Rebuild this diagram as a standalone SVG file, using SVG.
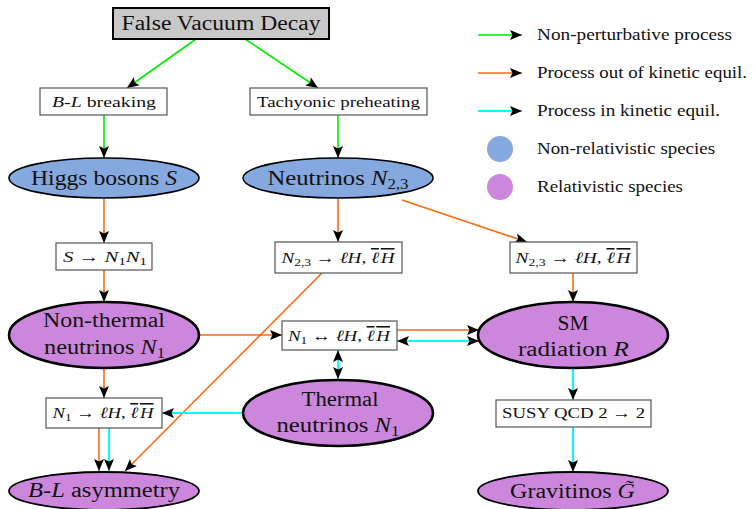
<svg xmlns="http://www.w3.org/2000/svg" width="753" height="509" viewBox="0 0 753 509" font-family="'Liberation Serif', serif">
<defs>
<style>
text{font-family:"Liberation Serif",serif;fill:#111;text-anchor:middle}
.big{font-size:20.5px}
.sm{font-size:15.5px}
.leg{font-size:16px;text-anchor:start}
.i{font-style:italic}
.ov{text-decoration:overline}
.box{fill:#fff;stroke:#555;stroke-width:1.2}
.nr{fill:#85a8de;stroke:#000;stroke-width:1.6}
.rel{fill:#cc87dd;stroke:#000;stroke-width:2.6}
.rel2{fill:#cc87dd;stroke:#000;stroke-width:1.8}
.c{fill:none;stroke-width:1.6}
.g{stroke:#00ee00}
.o{stroke:#ff6a10}
.cy{stroke:#00ffff;stroke-width:2}
</style>
<marker id="ah" markerWidth="13" markerHeight="11" refX="12" refY="5.5" orient="auto" markerUnits="userSpaceOnUse">
<path d="M0,0.5 L12,5.5 L0,10.5 L2.5,5.5 Z" fill="#000"/>
</marker>
<marker id="as" markerWidth="13" markerHeight="11" refX="1" refY="5.5" orient="auto" markerUnits="userSpaceOnUse">
<path d="M13,0.5 L1,5.5 L13,10.5 L10.5,5.5 Z" fill="#000"/>
</marker>
</defs>
<rect width="753" height="509" fill="#fff"/>

<g id="connectors">
<path class="c g" d="M196,39 L127,88" marker-end="url(#ah)"/>
<path class="c g" d="M245,39 L318,88" marker-end="url(#ah)"/>
<path class="c g" d="M104,115 L104,158" marker-end="url(#ah)"/>
<path class="c g" d="M338,115 L338,158" marker-end="url(#ah)"/>
<path class="c o" d="M104,199 L104,243" marker-end="url(#ah)"/>
<path class="c o" d="M338,199 L338,242" marker-end="url(#ah)"/>
<path class="c o" d="M402,200 L527,242" marker-end="url(#ah)"/>
<path class="c o" d="M104,270 L104,302" marker-end="url(#ah)"/>
<path class="c o" d="M573,273 L573,302" marker-end="url(#ah)"/>
<path class="c o" d="M322,273 L125,471" marker-end="url(#ah)"/>
<path class="c o" d="M199,335 L282,335" marker-end="url(#ah)"/>
<path class="c o" d="M397,330 L479,330" marker-end="url(#ah)"/>
<path class="c cy" d="M397,341 L479,341" marker-start="url(#as)" marker-end="url(#ah)"/>
<path class="c cy" d="M338,350 L338,379" marker-start="url(#as)" marker-end="url(#ah)"/>
<path class="c cy" d="M243,413 L162,413" marker-end="url(#ah)"/>
<path class="c o" d="M104,369 L104,398" marker-end="url(#ah)"/>
<path class="c o" d="M99,428 L99,471" marker-end="url(#ah)"/>
<path class="c cy" d="M109,428 L109,471" marker-end="url(#ah)"/>
<path class="c cy" d="M573,369 L573,400" marker-end="url(#ah)"/>
<path class="c cy" d="M573,427 L573,472" marker-end="url(#ah)"/>
</g>

<g id="fvd">
<rect x="113" y="8" width="216" height="31" fill="#c8c8c8" stroke="#000" stroke-width="2"/>
<text class="big" x="221" y="30" textLength="199" lengthAdjust="spacingAndGlyphs">False Vacuum Decay</text>
</g>
<g id="bl-breaking">
<rect class="box" x="40" y="88" width="127" height="27"/>
<text class="sm" x="104" y="107" textLength="104" lengthAdjust="spacingAndGlyphs"><tspan class="i">B</tspan>-<tspan class="i">L</tspan> breaking</text>
</g>
<g id="tachyonic">
<rect class="box" x="250" y="88" width="177" height="27"/>
<text class="sm" x="338.5" y="107" textLength="163" lengthAdjust="spacingAndGlyphs">Tachyonic preheating</text>
</g>
<g id="higgs">
<ellipse class="nr" cx="104" cy="178" rx="95" ry="20"/>
<text class="big" x="104" y="185" textLength="146" lengthAdjust="spacingAndGlyphs">Higgs bosons <tspan class="i">S</tspan></text>
</g>
<g id="neutrinos23">
<ellipse class="nr" cx="338" cy="178" rx="95" ry="20"/>
<text class="big" x="338" y="185" textLength="141" lengthAdjust="spacingAndGlyphs">Neutrinos <tspan class="i">N</tspan><tspan font-size="14" dy="4">2,3</tspan></text>
</g>
<g id="s-decay">
<rect class="box" x="56" y="243" width="96" height="27"/>
<text class="sm" x="105" y="262" textLength="84" lengthAdjust="spacingAndGlyphs"><tspan class="i">S</tspan> → <tspan class="i">N</tspan><tspan font-size="11" dy="3">1</tspan><tspan class="i" dy="-3">N</tspan><tspan font-size="11" dy="3">1</tspan></text>
</g>
<g id="n23-decay-a">
<rect class="box" x="275" y="242" width="127" height="31"/>
<text class="sm" x="338" y="263" textLength="113" lengthAdjust="spacingAndGlyphs"><tspan class="i">N</tspan><tspan font-size="11" dy="3">2,3</tspan><tspan dy="-3"> → </tspan><tspan class="i">ℓH</tspan>, <tspan class="i ov">ℓ</tspan><tspan class="i ov" dx="1.5">H</tspan></text>
</g>
<g id="n23-decay-b">
<rect class="box" x="510" y="242" width="127" height="31"/>
<text class="sm" x="573" y="263" textLength="115" lengthAdjust="spacingAndGlyphs"><tspan class="i">N</tspan><tspan font-size="11" dy="3">2,3</tspan><tspan dy="-3"> → </tspan><tspan class="i">ℓH</tspan>, <tspan class="i ov">ℓ</tspan><tspan class="i ov" dx="1.5">H</tspan></text>
</g>
<g id="nonthermal">
<ellipse class="rel" cx="104" cy="335" rx="95" ry="33"/>
<text class="big" x="104" y="327" textLength="122" lengthAdjust="spacingAndGlyphs">Non-thermal</text>
<text class="big" x="104.5" y="354" textLength="121" lengthAdjust="spacingAndGlyphs">neutrinos <tspan class="i">N</tspan><tspan font-size="14" dy="4">1</tspan></text>
</g>
<g id="n1-inverse">
<rect class="box" x="282" y="321" width="115" height="29"/>
<text class="sm" x="339" y="341" textLength="102" lengthAdjust="spacingAndGlyphs"><tspan class="i">N</tspan><tspan font-size="11" dy="3">1</tspan><tspan dy="-3"> ↔ </tspan><tspan class="i">ℓH</tspan>, <tspan class="i ov">ℓ</tspan><tspan class="i ov" dx="1.5">H</tspan></text>
</g>
<g id="sm-radiation">
<ellipse class="rel" cx="573" cy="335" rx="95" ry="33"/>
<text class="big" x="573" y="330" textLength="31" lengthAdjust="spacingAndGlyphs">SM</text>
<text class="big" x="573.5" y="356" textLength="111" lengthAdjust="spacingAndGlyphs">radiation <tspan class="i">R</tspan></text>
</g>
<g id="thermal">
<ellipse class="rel" cx="338" cy="413" rx="95" ry="33"/>
<text class="big" x="340" y="406" textLength="77" lengthAdjust="spacingAndGlyphs">Thermal</text>
<text class="big" x="338" y="432" textLength="123" lengthAdjust="spacingAndGlyphs">neutrinos <tspan class="i">N</tspan><tspan font-size="14" dy="4">1</tspan></text>
</g>
<g id="n1-decay">
<rect class="box" x="46" y="398" width="116" height="30"/>
<text class="sm" x="103" y="418" textLength="101" lengthAdjust="spacingAndGlyphs"><tspan class="i">N</tspan><tspan font-size="11" dy="3">1</tspan><tspan dy="-3"> → </tspan><tspan class="i">ℓH</tspan>, <tspan class="i ov">ℓ</tspan><tspan class="i ov" dx="1.5">H</tspan></text>
</g>
<g id="susy-qcd">
<rect class="box" x="496" y="400" width="155" height="27"/>
<text class="sm" x="573.5" y="418" textLength="143" lengthAdjust="spacingAndGlyphs">SUSY QCD 2 → 2</text>
</g>
<g id="bl-asymmetry">
<ellipse class="rel2" cx="104" cy="491" rx="95" ry="19"/>
<text class="big" x="104" y="497" textLength="152" lengthAdjust="spacingAndGlyphs"><tspan class="i">B</tspan>-<tspan class="i">L</tspan> asymmetry</text>
</g>
<g id="gravitinos">
<ellipse class="rel2" cx="573" cy="491" rx="95" ry="19"/>
<text class="big" x="572.5" y="498" textLength="125" lengthAdjust="spacingAndGlyphs">Gravitinos <tspan class="i">G̃</tspan></text>
</g>

<g id="legend">
<path class="c g" d="M478,35 L522,35" marker-end="url(#ah)"/>
<path class="c o" d="M478,73 L522,73" marker-end="url(#ah)"/>
<path class="c cy" d="M478,111 L522,111" marker-end="url(#ah)"/>
<circle cx="500" cy="149" r="13" fill="#85a8de"/>
<circle cx="500" cy="187" r="13" fill="#cc87dd"/>
<text class="leg" x="537" y="40" textLength="195" lengthAdjust="spacingAndGlyphs">Non-perturbative process</text>
<text class="leg" x="537" y="78" textLength="210" lengthAdjust="spacingAndGlyphs">Process out of kinetic equil.</text>
<text class="leg" x="537" y="116" textLength="183" lengthAdjust="spacingAndGlyphs">Process in kinetic equil.</text>
<text class="leg" x="537" y="154" textLength="178" lengthAdjust="spacingAndGlyphs">Non-relativistic species</text>
<text class="leg" x="537" y="192" textLength="146" lengthAdjust="spacingAndGlyphs">Relativistic species</text>
</g>
</svg>
